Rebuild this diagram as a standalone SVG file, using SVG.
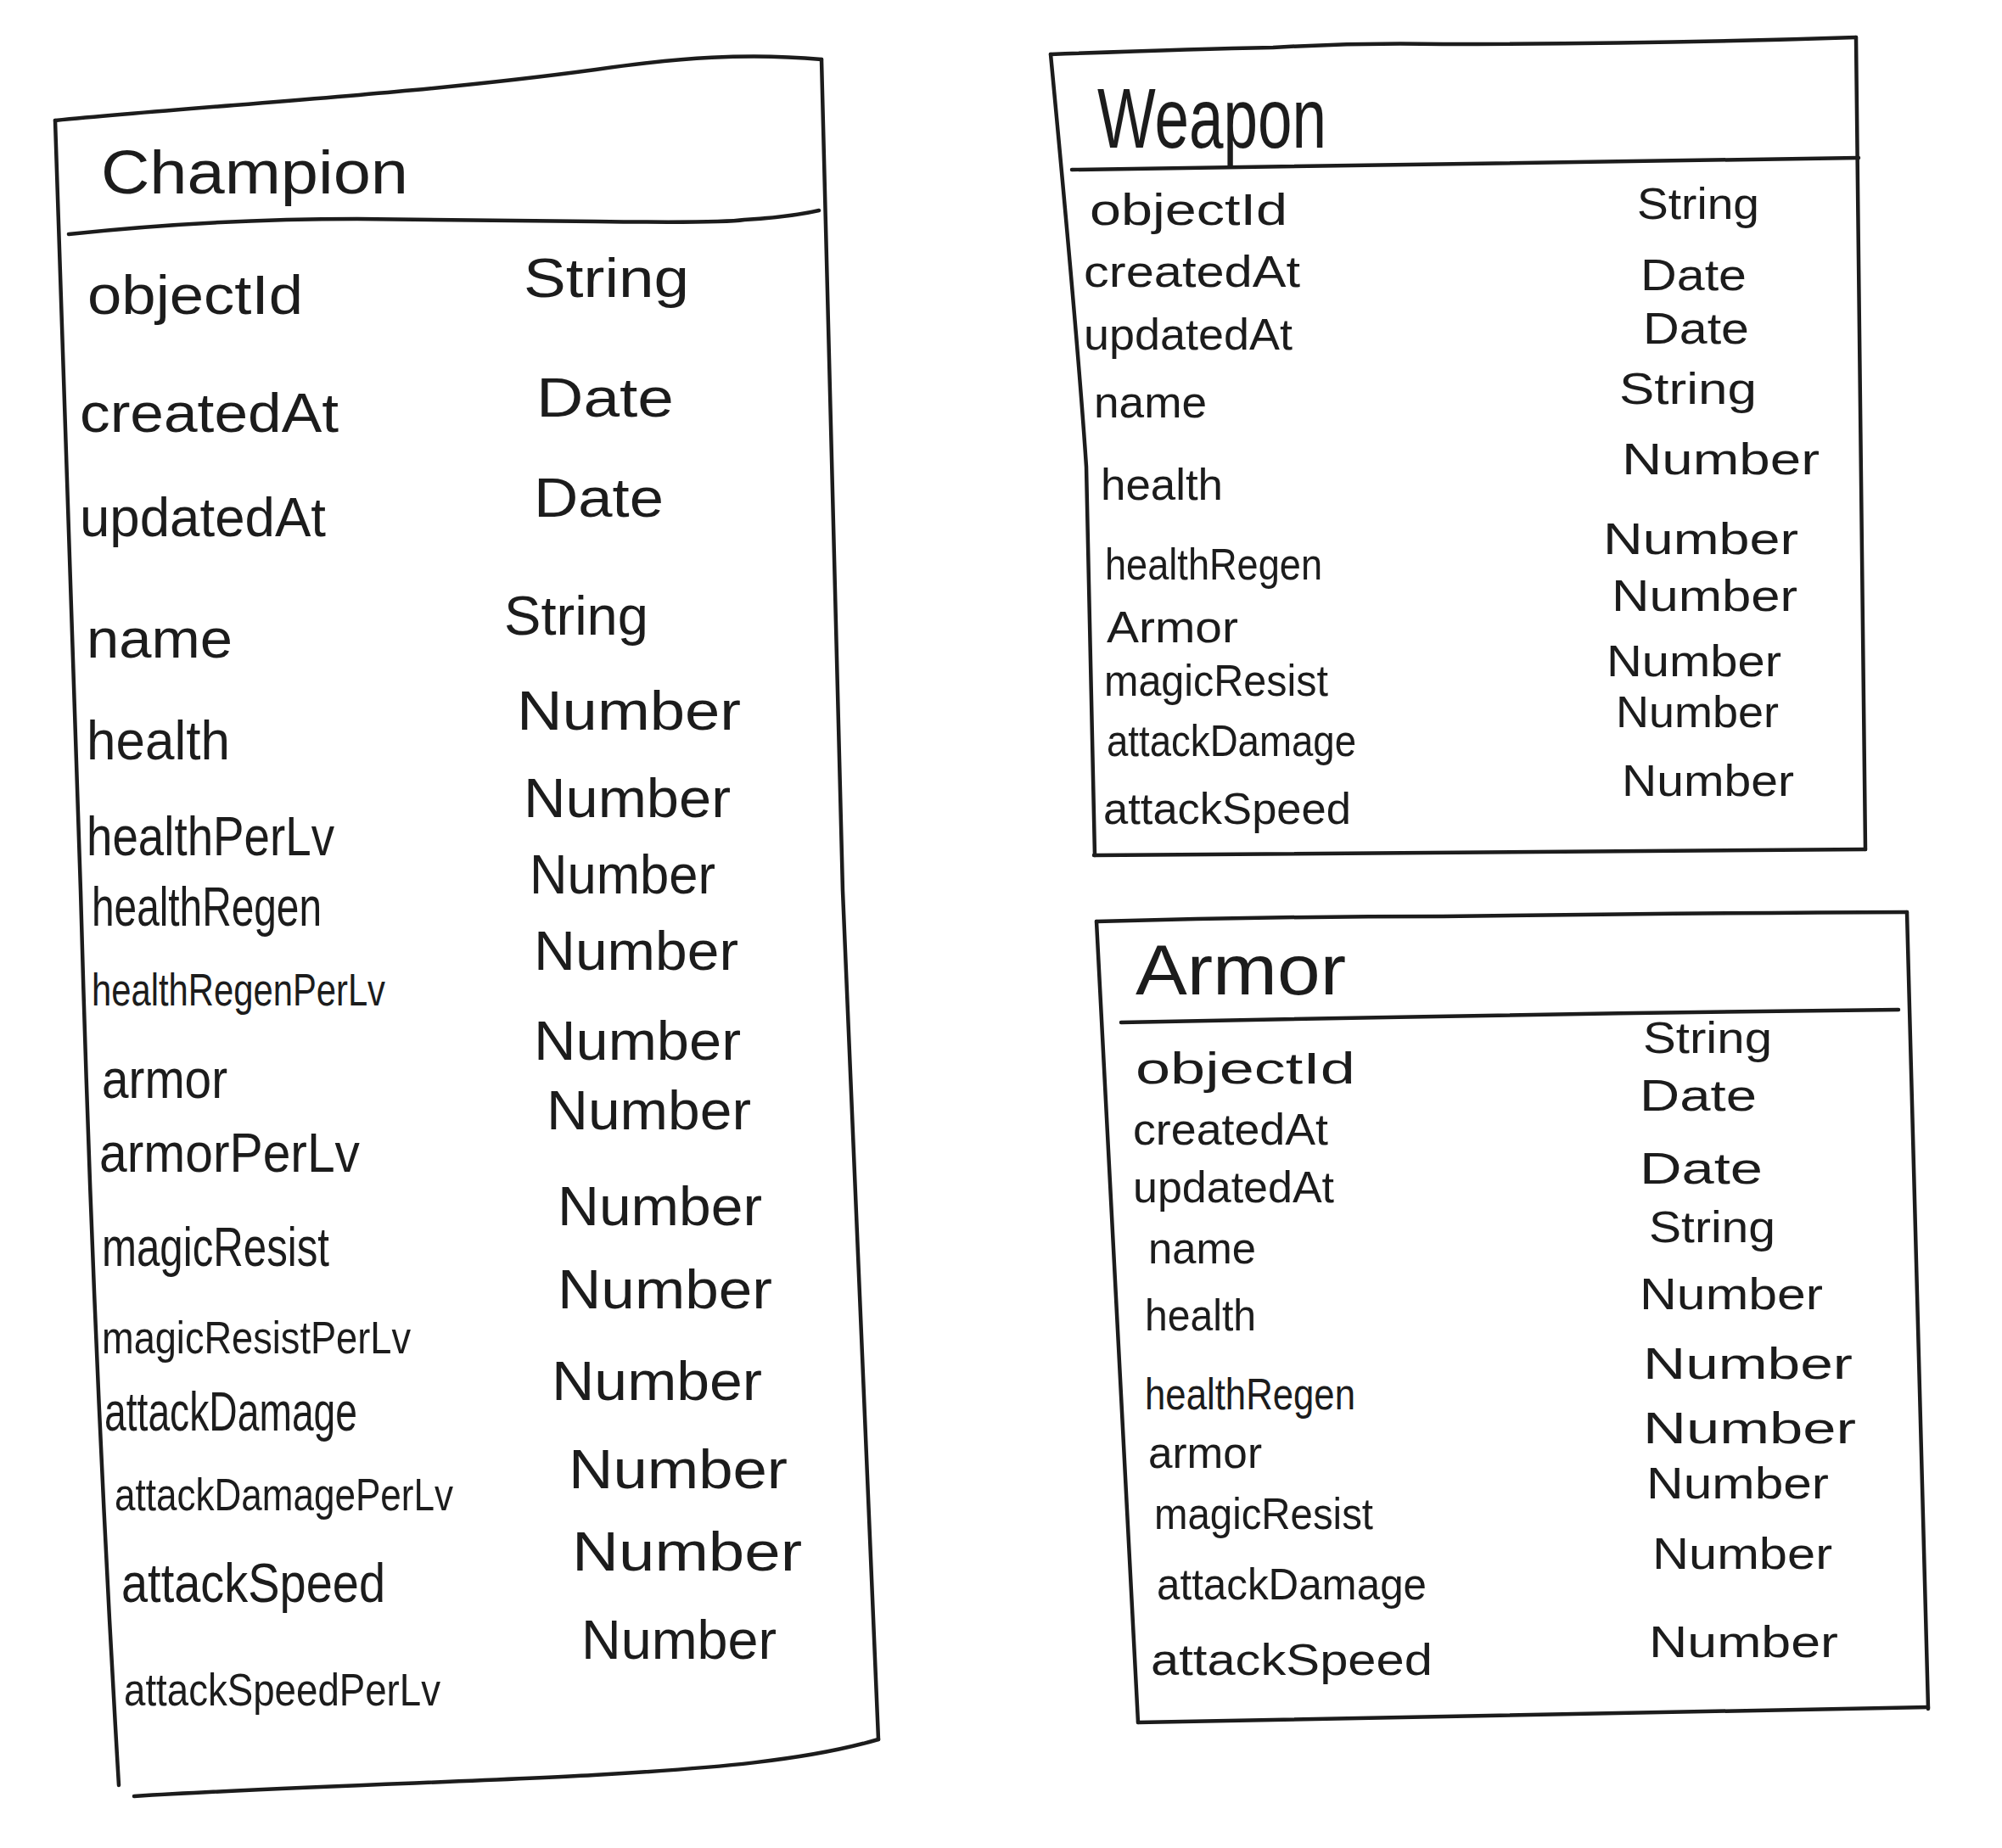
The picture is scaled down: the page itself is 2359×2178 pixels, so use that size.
<svg xmlns="http://www.w3.org/2000/svg" width="2359" height="2178" viewBox="0 0 2359 2178">
<style>
.b{fill:none;stroke:#1c1c1c;stroke-width:4.5;stroke-linecap:round;stroke-linejoin:round}
.t{font-family:"Liberation Sans",Arial,sans-serif;fill:#1c1c1c}
.c{font-size:64px}
.cs{font-size:54px}
.w{font-size:52px}
</style>
<rect width="2359" height="2178" fill="#ffffff"/>
<g id="champion">
<path class="b" d="M65,142 C260,123 480,112 702,82 C800,68 880,62 968,70"/>
<path class="b" d="M968,70 Q980,600 993,1050 L1035,2050"/>
<path class="b" d="M65,142 Q80,600 95,1050 Q110,1600 140,2104"/>
<path class="b" d="M158,2117 C350,2105 560,2100 700,2092 S950,2075 1035,2050"/>
<path class="b" d="M81,276 Q250,258 421,258 Q560,260 702,261 Q850,263 877,259 Q930,256 965,248"/>
<text class="t" x="119" y="228" font-size="72" textLength="362" lengthAdjust="spacingAndGlyphs">Champion</text>
<g class="t c">
<text x="103" y="370" textLength="254" lengthAdjust="spacingAndGlyphs">objectId</text>
<text x="94" y="509" textLength="305" lengthAdjust="spacingAndGlyphs">createdAt</text>
<text x="94" y="632" textLength="290" lengthAdjust="spacingAndGlyphs">updatedAt</text>
<text x="102" y="775" textLength="172" lengthAdjust="spacingAndGlyphs">name</text>
<text x="102" y="895" textLength="169" lengthAdjust="spacingAndGlyphs">health</text>
<text x="102" y="1008" textLength="292" lengthAdjust="spacingAndGlyphs">healthPerLv</text>
<text x="108" y="1091" textLength="271" lengthAdjust="spacingAndGlyphs">healthRegen</text>
<text class="cs" x="108" y="1185" textLength="346" lengthAdjust="spacingAndGlyphs">healthRegenPerLv</text>
<text x="120" y="1294" textLength="148" lengthAdjust="spacingAndGlyphs">armor</text>
<text x="117" y="1381" textLength="307" lengthAdjust="spacingAndGlyphs">armorPerLv</text>
<text x="120" y="1492" textLength="268" lengthAdjust="spacingAndGlyphs">magicResist</text>
<text class="cs" x="120" y="1595" textLength="364" lengthAdjust="spacingAndGlyphs">magicResistPerLv</text>
<text x="123" y="1686" textLength="298" lengthAdjust="spacingAndGlyphs">attackDamage</text>
<text class="cs" x="135" y="1780" textLength="399" lengthAdjust="spacingAndGlyphs">attackDamagePerLv</text>
<text x="143" y="1888" textLength="311" lengthAdjust="spacingAndGlyphs">attackSpeed</text>
<text class="cs" x="146" y="2010" textLength="373" lengthAdjust="spacingAndGlyphs">attackSpeedPerLv</text>
<text x="617" y="350" textLength="195" lengthAdjust="spacingAndGlyphs">String</text>
<text x="632" y="491" textLength="162" lengthAdjust="spacingAndGlyphs">Date</text>
<text x="629" y="609" textLength="153" lengthAdjust="spacingAndGlyphs">Date</text>
<text x="594" y="748" textLength="170" lengthAdjust="spacingAndGlyphs">String</text>
<text x="609" y="860" textLength="264" lengthAdjust="spacingAndGlyphs">Number</text>
<text x="617" y="963" textLength="244" lengthAdjust="spacingAndGlyphs">Number</text>
<text x="624" y="1053" textLength="219" lengthAdjust="spacingAndGlyphs">Number</text>
<text x="629" y="1143" textLength="241" lengthAdjust="spacingAndGlyphs">Number</text>
<text x="629" y="1249" textLength="244" lengthAdjust="spacingAndGlyphs">Number</text>
<text x="644" y="1331" textLength="241" lengthAdjust="spacingAndGlyphs">Number</text>
<text x="657" y="1444" textLength="241" lengthAdjust="spacingAndGlyphs">Number</text>
<text x="657" y="1542" textLength="253" lengthAdjust="spacingAndGlyphs">Number</text>
<text x="650" y="1650" textLength="248" lengthAdjust="spacingAndGlyphs">Number</text>
<text x="670" y="1754" textLength="258" lengthAdjust="spacingAndGlyphs">Number</text>
<text x="674" y="1851" textLength="271" lengthAdjust="spacingAndGlyphs">Number</text>
<text x="685" y="1955" textLength="230" lengthAdjust="spacingAndGlyphs">Number</text>
</g>
</g>
<g id="weapon">
<path class="b" d="M1238,64 Q1400,58 1500,56 Q1600,50 1700,52 Q1950,52 2187,44"/>
<path class="b" d="M2187,44 Q2192,500 2198,1001"/>
<path class="b" d="M1238,64 Q1270,400 1280,550 L1290,1008"/>
<path class="b" d="M1289,1008 Q1700,1004 2198,1001"/>
<path class="b" d="M1263,200 Q1700,192 2190,186"/>
<text class="t" x="1293" y="174" font-size="100" textLength="270" lengthAdjust="spacingAndGlyphs">Weapon</text>
<g class="t w">
<text x="1284" y="265" textLength="233" lengthAdjust="spacingAndGlyphs">objectId</text>
<text x="1277" y="338" textLength="255" lengthAdjust="spacingAndGlyphs">createdAt</text>
<text x="1277" y="412" textLength="246" lengthAdjust="spacingAndGlyphs">updatedAt</text>
<text x="1289" y="492" textLength="133" lengthAdjust="spacingAndGlyphs">name</text>
<text x="1297" y="589" textLength="144" lengthAdjust="spacingAndGlyphs">health</text>
<text x="1302" y="683" textLength="256" lengthAdjust="spacingAndGlyphs">healthRegen</text>
<text x="1304" y="757" textLength="155" lengthAdjust="spacingAndGlyphs">Armor</text>
<text x="1301" y="820" textLength="264" lengthAdjust="spacingAndGlyphs">magicResist</text>
<text x="1304" y="891" textLength="294" lengthAdjust="spacingAndGlyphs">attackDamage</text>
<text x="1300" y="971" textLength="292" lengthAdjust="spacingAndGlyphs">attackSpeed</text>
<text x="1929" y="258" textLength="144" lengthAdjust="spacingAndGlyphs">String</text>
<text x="1933" y="342" textLength="125" lengthAdjust="spacingAndGlyphs">Date</text>
<text x="1936" y="405" textLength="125" lengthAdjust="spacingAndGlyphs">Date</text>
<text x="1908" y="476" textLength="162" lengthAdjust="spacingAndGlyphs">String</text>
<text x="1911" y="559" textLength="233" lengthAdjust="spacingAndGlyphs">Number</text>
<text x="1889" y="653" textLength="230" lengthAdjust="spacingAndGlyphs">Number</text>
<text x="1899" y="720" textLength="219" lengthAdjust="spacingAndGlyphs">Number</text>
<text x="1893" y="797" textLength="206" lengthAdjust="spacingAndGlyphs">Number</text>
<text x="1904" y="857" textLength="192" lengthAdjust="spacingAndGlyphs">Number</text>
<text x="1911" y="938" textLength="203" lengthAdjust="spacingAndGlyphs">Number</text>
</g>
</g>
<g id="armor">
<path class="b" d="M1292,1086 Q1500,1080 1700,1080 Q2000,1076 2247,1075"/>
<path class="b" d="M2247,1075 Q2258,1550 2272,2014"/>
<path class="b" d="M1292,1086 Q1315,1500 1341,2030"/>
<path class="b" d="M1341,2030 Q1800,2020 2272,2012"/>
<path class="b" d="M1321,1205 Q1800,1195 2237,1190"/>
<text class="t" x="1338" y="1172" font-size="84" textLength="248" lengthAdjust="spacingAndGlyphs">Armor</text>
<g class="t w">
<text x="1338" y="1277" textLength="259" lengthAdjust="spacingAndGlyphs">objectId</text>
<text x="1335" y="1349" textLength="230" lengthAdjust="spacingAndGlyphs">createdAt</text>
<text x="1335" y="1417" textLength="237" lengthAdjust="spacingAndGlyphs">updatedAt</text>
<text x="1353" y="1489" textLength="127" lengthAdjust="spacingAndGlyphs">name</text>
<text x="1349" y="1568" textLength="131" lengthAdjust="spacingAndGlyphs">health</text>
<text x="1349" y="1661" textLength="248" lengthAdjust="spacingAndGlyphs">healthRegen</text>
<text x="1353" y="1730" textLength="134" lengthAdjust="spacingAndGlyphs">armor</text>
<text x="1360" y="1802" textLength="258" lengthAdjust="spacingAndGlyphs">magicResist</text>
<text x="1363" y="1885" textLength="318" lengthAdjust="spacingAndGlyphs">attackDamage</text>
<text x="1356" y="1974" textLength="332" lengthAdjust="spacingAndGlyphs">attackSpeed</text>
<text x="1936" y="1241" textLength="152" lengthAdjust="spacingAndGlyphs">String</text>
<text x="1932" y="1309" textLength="138" lengthAdjust="spacingAndGlyphs">Date</text>
<text x="1932" y="1395" textLength="145" lengthAdjust="spacingAndGlyphs">Date</text>
<text x="1943" y="1464" textLength="149" lengthAdjust="spacingAndGlyphs">String</text>
<text x="1932" y="1543" textLength="216" lengthAdjust="spacingAndGlyphs">Number</text>
<text x="1936" y="1625" textLength="247" lengthAdjust="spacingAndGlyphs">Number</text>
<text x="1936" y="1701" textLength="251" lengthAdjust="spacingAndGlyphs">Number</text>
<text x="1940" y="1766" textLength="215" lengthAdjust="spacingAndGlyphs">Number</text>
<text x="1947" y="1849" textLength="212" lengthAdjust="spacingAndGlyphs">Number</text>
<text x="1943" y="1953" textLength="223" lengthAdjust="spacingAndGlyphs">Number</text>
</g>
</g>
</svg>
